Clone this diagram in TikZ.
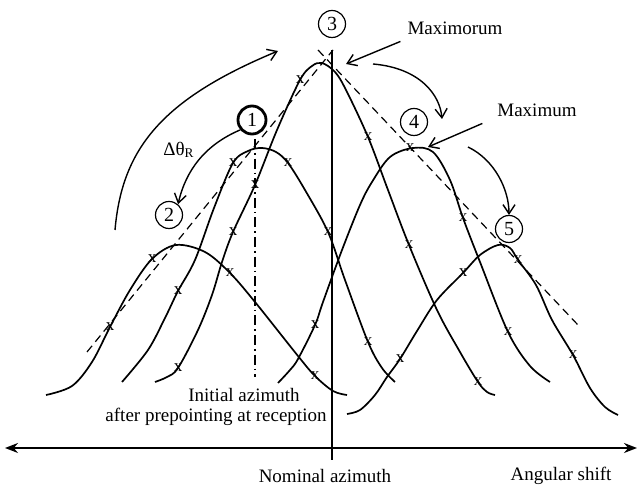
\documentclass[tikz,border=0pt]{standalone}
\usepackage{fontspec}
\setmainfont{Liberation Serif}
\usepackage{tikz}
\usetikzlibrary{
  arrows.meta,  % Tips "Straight Barb" and "Stealth"
  positioning
}
\tikzset{
  font=\fontsize{9.5}{11}\selectfont,
  >={Straight Barb[length=4.5pt,width=6pt]},
  beam/.style={line width=0.85pt},
  trend/.style={line width=0.6pt,dash pattern=on 4pt off 2.6pt},
  pointing/.style={line width=0.8pt,dash pattern=on 5pt off 2pt on 0.8pt off 2pt},
  axis/.style={line width=0.85pt,{Stealth[length=6.5pt,width=5pt]}-{Stealth[length=6.5pt,width=5pt]}},
  hit/.style={inner sep=0pt,font=\fontsize{8.5}{8.5}\selectfont},
  num/.style={circle,draw,line width=0.6pt,minimum size=13.5pt,inner sep=0pt,font=\fontsize{10}{10}\selectfont},
  swing/.style={->,line width=0.7pt}
}

\begin{document}
\begin{tikzpicture}[x=0.5pt,y=-0.5pt]
\useasboundingbox (0,0) rectangle (638,491);

% beam positions
\node[num,line width=1.4pt,minimum size=14pt] (c1) at (252,120) {1};
\node[num] (c2) at (169,215) {2};
\node[num] (c3) at (332,24) {3};
\node[num] (c4) at (414,122) {4};
\node[num] (c5) at (509,229) {5};

% received level for each scan
\draw[beam] plot[smooth,tension=0.55] coordinates {(46,395) (72,386) (92,362) (110,327) (130,290) (152,259) (176,245) (205,252) (230,273) (255,302) (298,356) (315,376) (333,391) (347,395)};
\draw[beam] plot[smooth,tension=0.55] coordinates {(122,382) (148,350) (165,318) (178,291) (195,260) (214,208) (233,163) (248,151) (262,148) (276,152) (288,163) (305,190) (328,232) (345,280) (368,342) (382,368) (395,382)};
\draw[beam] plot[smooth,tension=0.55] coordinates {(155,382) (167,377) (178,368) (198,330) (212,295) (222,262) (233,232) (255,185) (277,130) (300,80) (312,66) (322,63) (335,72) (346,90) (368,137) (388,190) (409,245) (437,310) (460,352) (478,382) (487,392) (495,395)};
\draw[beam] plot[smooth,tension=0.55] coordinates {(278,383) (290,370) (298,359) (315,325) (323,302) (342,250) (360,205) (372,182) (390,157) (413,148) (433,152) (450,180) (463,218) (480,262) (508,332) (530,366) (550,382)};
\draw[beam] plot[smooth,tension=0.55] coordinates {(347,414) (360,410) (375,395) (387,377) (400,359) (417,331) (437,300) (463,273) (480,255) (498,245) (510,248) (518,260) (536,285) (552,320) (573,355) (590,388) (605,407) (618,415)};

% measured points
\foreach \p [count=\i] in {(110,327),(152,259),(230,273),(315,376),
    (178,291),(233,163),(288,163),(328,232),(368,342),
    (178,368),(233,232),(255,185),(300,80),(368,137),(409,245),(478,382),
    (315,325),(410,148),(463,218),(508,332),
    (400,359),(463,273),(518,260),(573,355)}
  \node[hit] (x\i) at \p {x};

% envelope of the maxima
\draw[trend] (87,352) -- (333,50);
\draw[trend] (318,50) -- (578,325);

% initial azimuth
\draw[pointing] (255,139) -- (255,377);

% axes
\draw[axis] (5,448) -- (637,448);
\draw[beam] (332,50) -- (332,460);

% labels
\node (maximorum) at (455,28) {Maximorum};
\node (maximum) at (537,110) {Maximum};
\node (dtheta) at (179,150) {Δθ\textsubscript{R}};
\node (initial) at (244,395) {Initial azimuth};
\node (prepoint) at (216,417) {after prepointing at reception};
\node (nominal) at (325,476) {Nominal azimuth};
\node (shift) at (561,476) {Angular shift};

% arrows
\coordinate (top) at (346,64);
\coordinate (peak) at (428,147);
\coordinate (bigfrom) at (115,230);
\coordinate (bigto) at (278,51);
\coordinate (swingA) at (373,64);
\coordinate (swingB) at (442,119);
\coordinate (swingC) at (468,147);
\draw[swing] (maximorum.south west) -- (top);
\draw[swing] ([xshift=-4pt]maximum.south west) -- (peak);
\draw[swing] (bigfrom) .. controls (122,150) and (160,100) .. (bigto);
\draw[swing] (c1.220) .. controls (205,145) and (186,170) .. (c2.50);
\draw[swing] (swingA) .. controls (420,68) and (440,95) .. (swingB);
\draw[swing] (swingC) .. controls (495,160) and (509,190) .. (c5.north);
\end{tikzpicture}
\end{document}
